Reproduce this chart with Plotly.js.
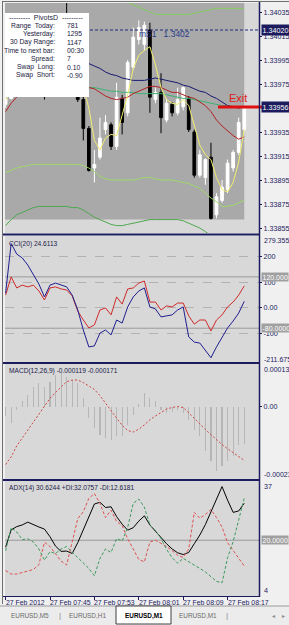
<!DOCTYPE html>
<html><head><meta charset="utf-8">
<script src="https://cdn.plot.ly/plotly-3.0.1.min.js"></script>
<style>html,body{margin:0;padding:0;background:#f0f0f0;overflow:hidden}#c{width:289px;height:625px}</style>
</head><body><div id="c"></div>
<script>
// ---------- data ----------
const times = ['07:37','07:38','07:39','07:40','07:41','07:42','07:43','07:44','07:45','07:46','07:47','07:48','07:49','07:50','07:51','07:52','07:53','07:54','07:55','07:56','07:57','07:58','07:59',
               '08:00','08:01','08:02','08:03','08:04','08:05','08:06','08:07','08:08','08:09','08:10','08:11','08:12','08:13','08:14','08:15','08:16','08:17','08:18','08:19','08:20'];
const tickTimes = ['07:37','07:45','07:53','08:01','08:09','08:17'];
const tickLabels = ['27 Feb 2012','27 Feb 07:45','27 Feb 07:53','27 Feb 08:01','27 Feb 08:09','27 Feb 08:17'];

const open  = [1.33958,1.33963,1.33978,1.33987,1.33995,1.34003,1.33999,1.33983,1.33970,1.33987,1.34008,1.34024,1.34003,1.33987,1.33962,1.33938,1.33905,1.33914,1.33937,1.33941,1.33923,1.33963,1.33951,1.33989,1.34012,1.34008,1.34020,1.33962,1.33968,1.33945,1.33958,1.33951,1.33956,1.33963,1.33935,1.33899,1.33897,1.33914,1.33866,1.33878,1.33887,1.33905,1.33918,1.33937];
const high  = [1.33966,1.33983,1.33993,1.33999,1.34008,1.34012,1.34003,1.33987,1.33991,1.34012,1.34033,1.34043,1.34008,1.33991,1.33966,1.33940,1.33920,1.33947,1.33949,1.33943,1.33976,1.33966,1.33995,1.34022,1.34028,1.34027,1.34026,1.33972,1.33984,1.33963,1.33960,1.33972,1.33973,1.33965,1.33937,1.33920,1.33913,1.33926,1.33884,1.33895,1.33912,1.33920,1.33947,1.33956];
const low   = [1.33955,1.33962,1.33974,1.33983,1.33991,1.33995,1.33978,1.33962,1.33966,1.33985,1.34003,1.33999,1.33983,1.33960,1.33928,1.33902,1.33893,1.33912,1.33933,1.33920,1.33920,1.33933,1.33948,1.33987,1.34008,1.34003,1.33951,1.33959,1.33934,1.33943,1.33948,1.33949,1.33953,1.33935,1.33897,1.33897,1.33891,1.33862,1.33863,1.33876,1.33884,1.33902,1.33916,1.33935];
const close = [1.33963,1.33978,1.33987,1.33995,1.34003,1.33999,1.33983,1.33970,1.33987,1.34008,1.34024,1.34003,1.33987,1.33962,1.33938,1.33903,1.33908,1.33930,1.33943,1.33923,1.33964,1.33943,1.33993,1.34014,1.34022,1.34024,1.33964,1.33968,1.33947,1.33959,1.33951,1.33962,1.33972,1.33937,1.33899,1.33916,1.33912,1.33863,1.33881,1.33889,1.33909,1.33918,1.33943,1.33956];

const maFast  = [1.33962,1.33968,1.33977,1.33985,1.33993,1.33999,1.33995,1.33985,1.33980,1.33988,1.34005,1.34013,1.34003,1.33983,1.33972,1.33955,1.33928,1.33920,1.33930,1.33933,1.33932,1.33949,1.33966,1.33988,1.33999,1.34003,1.34006,1.33991,1.33972,1.33962,1.33959,1.33958,1.33962,1.33957,1.33941,1.33924,1.33916,1.33912,1.33897,1.33887,1.33885,1.33893,1.33910,1.33937];
const maSlow  = [1.34012,1.34010,1.34008,1.34007,1.34005,1.34003,1.34002,1.34000,1.33998,1.33998,1.33997,1.33996,1.33995,1.33994,1.33993,1.33992,1.33990,1.33988,1.33985,1.33983,1.33982,1.33980,1.33979,1.33978,1.33978,1.33978,1.33979,1.33980,1.33979,1.33978,1.33977,1.33976,1.33974,1.33973,1.33971,1.33969,1.33968,1.33965,1.33963,1.33960,1.33957,1.33956,1.33955,1.33956];
const maMid   = [1.33952,1.33959,1.33964,1.33968,1.33970,1.33972,1.33973,1.33974,1.33975,1.33976,1.33977,1.33977,1.33976,1.33974,1.33973,1.33972,1.33971,1.33968,1.33965,1.33963,1.33962,1.33963,1.33964,1.33967,1.33969,1.33971,1.33973,1.33973,1.33972,1.33970,1.33968,1.33968,1.33966,1.33964,1.33963,1.33960,1.33957,1.33952,1.33945,1.33940,1.33936,1.33932,1.33929,1.33931];
const maGreen = [1.33977,1.33977,1.33976,1.33976,1.33975,1.33975,1.33975,1.33974,1.33974,1.33974,1.33973,1.33973,1.33973,1.33972,1.33972,1.33972,1.33972,1.33971,1.33970,1.33969,1.33969,1.33968,1.33968,1.33968,1.33967,1.33967,1.33967,1.33967,1.33967,1.33966,1.33965,1.33964,1.33963,1.33963,1.33962,1.33961,1.33960,1.33959,1.33958,1.33957,1.33957,1.33956,1.33956,1.33955];
const bandUpper = [null,null,null,null,null,null,null,null,null,null,null,null,null,null,null,null,null,null,null,null,null,1.34047,1.34043,1.34041,1.34039,1.34037,1.34035,1.34033,1.34033,1.34033,1.34033,1.34033,1.34033,1.34033,1.34034,1.34035,1.34036,1.34037,1.34038,1.34038,1.34038,1.34038,1.34038,1.34038];
const bandMid   = [1.33901,1.33903,1.33905,1.33906,1.33907,1.33908,1.33908,1.33908,1.33908,1.33908,1.33908,1.33908,1.33908,1.33908,1.33907,1.33905,1.33902,1.33898,1.33896,1.33895,1.33895,1.33895,1.33895,1.33895,1.33896,1.33897,1.33897,1.33896,1.33895,1.33895,1.33895,1.33894,1.33893,1.33892,1.33890,1.33888,1.33884,1.33880,1.33877,1.33873,1.33873,1.33874,1.33876,1.33878];
const bandLower = [1.33857,1.33862,1.33866,1.33868,1.33870,1.33872,1.33873,1.33873,1.33873,1.33873,1.33873,1.33873,1.33872,1.33872,1.33870,1.33867,1.33864,1.33862,1.33860,1.33858,1.33857,1.33857,1.33858,1.33859,1.33860,1.33861,1.33862,1.33862,1.33862,1.33862,1.33862,1.33862,1.33861,1.33859,1.33857,1.33855,1.33852,1.33848,1.33845,1.33842,1.33841,1.33841,1.33841,1.33841];

const mainTicks = [1.34035,1.34015,1.33995,1.33975,1.33935,1.33915,1.33895,1.33875,1.33855];
const mainRange = [1.3385083,1.340425];
const mS1Level = 1.3402;

const cci20  = [57,250,209,194,166,127,92,42,88,96,88,81,49,-9,-87,-153,-149,-99,-87,-106,-48,-60,3,42,65,77,3,-5,-36,-32,-28,-9,3,-114,-134,-138,-165,-195,-153,-114,-79,-52,-21,24.6113];
const cciRed = [49,120,77,88,81,88,65,30,77,81,73,69,46,-13,-48,-79,-67,-9,-1,-28,42,14,73,77,96,104,22,22,-9,7,3,18,18,-32,-64,-48,-48,-91,-48,-28,3,22,49,85];
const cciRange = [-211.675,279.3554];
const cciTicks = [200,100,0,-100];
const cciTickText = ['200','100','0.00','-100'];
const cciLevels = [120,-80];

const macdMain   = [-0.000030,-0.000053,-0.000010,0.000016,0.000037,0.000063,0.000074,0.000063,0.000079,0.000100,0.000105,0.000095,0.000084,0.000074,0.000026,-0.000037,-0.000068,-0.000089,-0.000100,-0.000105,-0.000095,-0.000095,-0.000058,-0.000026,0.000007,0.000042,0.000028,0.000016,-0.000010,-0.000021,-0.000016,-0.000010,-0.000021,-0.000042,-0.000074,-0.000095,-0.000142,-0.000174,-0.000205,-0.000189,-0.000174,-0.000158,-0.000121,-0.000119];
const macdSignal = [-0.000184,-0.000160,-0.000125,-0.000100,-0.000072,-0.000047,-0.000022,0.000002,0.000026,0.000045,0.000063,0.000079,0.000084,0.000084,0.000076,0.000065,0.000054,0.000035,0.000010,-0.000014,-0.000037,-0.000060,-0.000076,-0.000081,-0.000072,-0.000058,-0.000042,-0.000030,-0.000018,-0.000008,-0.000003,0.000000,-0.000003,-0.000020,-0.000035,-0.000055,-0.000073,-0.000090,-0.000106,-0.000121,-0.000134,-0.000147,-0.000160,-0.000171];
const macdRange = [-0.00023,0.000135];
const macdRangeText = ['-0.00023','0.000135'];

const adx     = [18.0,23.0,23.9,24.4,25.2,24.4,23.8,23.2,21.0,18.3,16.8,16.9,16.2,19.3,23.0,26.5,30.4,30.9,29.4,29.6,26.8,24.6,22.9,23.6,25.5,27.0,24.4,22.6,20.7,19.0,17.5,16.4,15.9,16.5,19.0,21.5,24.5,28.0,32.0,35.4,31.5,28.0,28.4,30.6244];
const plusDI  = [17.0,23.6,22.4,20.2,20.4,19.5,17.5,14.3,16.7,16.2,17.5,18.2,16.6,15.0,13.5,11.9,9.8,14.8,17.5,16.5,20.5,19.8,23.7,30.6,31.8,29.5,24.4,22.8,20.5,17.4,15.0,13.4,14.8,13.9,12.9,11.9,10.9,9.5,8.2,7.8,15.0,19.6,26.0,32.0757];
const minusDI = [11.3,10.3,10.3,10.8,11.2,11.6,13.0,19.4,18.2,16.2,14.0,12.9,19.3,26.2,28.2,32.0,33.4,30.6,26.5,28.6,25.4,24.2,20.4,17.3,14.5,13.8,19.5,20.0,19.2,18.2,17.0,15.7,15.1,17.5,28.0,26.3,27.4,28.8,26.5,23.8,19.3,17.0,15.0,12.6181];
const adxRange = [4,37];
const adxLevel = 20;

const pivotLabels = ['Range\u00a0\u00a0Today:','Yesterday:','30 Day Range:','Time to next bar:','Spread:','Swap\u00a0\u00a0Long:','Swap\u00a0\u00a0Short:'];
const pivotValues = ['781','1295','1147','00:30','7','0.10','-0.90'];

const tabNames = ['EURUSD,M5','EURUSD,H1','EURUSD,M1','EURUSD,M1'];
const activeTab = 2;

// ---------- layout helpers ----------
const W=289,H=625, PL=5, PR=259, PT=3, PB=596;
const fx = x => (x-PL)/(PR-PL);
const fy = y => (PB-y)/(PB-PT);
const NAVY='#1b1b5e';
const FONT='"Liberation Sans", Arial, sans-serif';
const idx = times.map((t,i)=>i);
const last = idx.length-1;

function ann(text, x, y, o={}) {
  return Object.assign({text, xref:'paper', yref:'paper', x:fx(x), y:fy(y), showarrow:false,
    xanchor:'left', yanchor:'middle', font:{family:FONT, size:7, color:'#1a1a40'}}, o);
}

const line = (y, color, w, yaxis, extra={}) => Object.assign({type:'scatter', mode:'lines', x:idx, y, xaxis:'x', yaxis,
  line:{color, width:w}, hoverinfo:'skip', connectgaps:false}, extra);

const traces = [
  {type:'candlestick', x:idx, open, high, low, close, xaxis:'x', yaxis:'y', whiskerwidth:0,
   increasing:{line:{color:'#ffffff', width:1}, fillcolor:'#ffffff'},
   decreasing:{line:{color:'#000000', width:1}, fillcolor:'#000000'}, hoverinfo:'skip'},
  line(bandUpper,'#86cf62',1,'y'),
  line(bandMid,'#9fd86a',1,'y'),
  line(bandLower,'#4ea84e',1,'y'),
  line(maGreen,'#3cb371',1,'y'),
  line(maMid,'#b22222',1,'y'),
  line(maSlow,'#191970',1,'y'),
  line(maFast,'#f2ee70',1,'y'),
  line(cciRed,'#d02a2a',1,'y2'),
  line(cci20,'#1f1f8f',1,'y2'),
  {type:'bar', x:idx, y:macdMain, xaxis:'x', yaxis:'y3', width:0.2, marker:{color:'#b6b6b6', line:{width:0}}, hoverinfo:'skip'},
  line(macdSignal,'#d04545',1,'y3',{line:{color:'#d04545', width:1, dash:'2px,2px'}}),
  line(adx,'#000000',1,'y4'),
  line(minusDI,'#e05050',1,'y4',{line:{color:'#e05050', width:1, dash:'3px,2px'}}),
  line(plusDI,'#3a9a5a',1,'y4',{line:{color:'#3a9a5a', width:1, dash:'3px,2px'}})
];

const yCommon = {side:'right', anchor:'x', showgrid:false, zeroline:false, showline:false, ticks:'outside', ticklen:2,
  tickwidth:1, tickcolor:NAVY, tickfont:{family:FONT, size:7.2, color:NAVY}, ticklabeloverflow:'allow', fixedrange:true, automargin:false};

const minLow = Math.min(...low), maxHigh = Math.max(...high);
const lastClose = close[last];

const shapes = [
  {type:'rect', xref:'x', yref:'y', x0:-1, x1:last, y0:minLow, y1:maxHigh, fillcolor:'#a9a9a9', line:{width:0}, layer:'below'},
  {type:'line', xref:'paper', yref:'y', x0:0, x1:1, y0:lastClose, y1:lastClose, line:{color:'#f6f6f6', width:1}, layer:'below'},
  {type:'line', xref:'paper', yref:'y', x0:0, x1:1, y0:mS1Level, y1:mS1Level, line:{color:'#1f2a7a', width:1, dash:'3px,2px'}, layer:'above'},
  ...cciLevels.map(v=>({type:'line', xref:'paper', yref:'y2', x0:0, x1:1, y0:v, y1:v, line:{color:'#9a9a9a', width:1}, layer:'below'})),
  {type:'line', xref:'paper', yref:'y4', x0:0, x1:1, y0:adxLevel, y1:adxLevel, line:{color:'#9a9a9a', width:1}, layer:'below'},
  // Exit line
  {type:'line', xref:'paper', yref:'paper', x0:fx(218), x1:fx(263), y0:fy(107), y1:fy(107), line:{color:'#e01010', width:3}, layer:'above'},
  // pivots box
  {type:'rect', xref:'paper', yref:'paper', x0:fx(5), x1:fx(89), y0:fy(97), y1:fy(13), fillcolor:'#ffffff', line:{width:0}, layer:'above'},
  // separators & frame
  ...[234.5,363,480].map(y=>({type:'line', xref:'paper', yref:'paper', x0:fx(3), x1:fx(259.5), y0:fy(y), y1:fy(y), line:{color:NAVY, width:2}})),
  {type:'line', xref:'paper', yref:'paper', x0:fx(3), x1:fx(260), y0:fy(596.5), y1:fy(596.5), line:{color:NAVY, width:1}},
  {type:'line', xref:'paper', yref:'paper', x0:fx(259.5), x1:fx(259.5), y0:fy(2), y1:fy(597), line:{color:NAVY, width:1.5}},
  {type:'line', xref:'paper', yref:'paper', x0:fx(2.5), x1:fx(2.5), y0:fy(1), y1:fy(604), line:{color:'#707070', width:1}},
  {type:'line', xref:'paper', yref:'paper', x0:fx(2), x1:fx(289), y0:fy(1.5), y1:fy(1.5), line:{color:'#707070', width:1}},
  // tab bar
  {type:'rect', xref:'paper', yref:'paper', x0:fx(0), x1:fx(289), y0:fy(625), y1:fy(606), fillcolor:'#ececec', line:{width:0}, layer:'below'},
  {type:'line', xref:'paper', yref:'paper', x0:fx(0), x1:fx(289), y0:fy(606), y1:fy(606), line:{color:'#9a9a9a', width:1}, layer:'below'},
  {type:'rect', xref:'paper', yref:'paper', x0:fx(116), x1:fx(171), y0:fy(624), y1:fy(606), fillcolor:'#ffffff', line:{color:'#404040', width:1}, layer:'below'}
];

const annotations = [
  // time labels at the axis ticks
  ...tickTimes.map((t,i)=>({text:tickLabels[i], xref:'x', yref:'paper', x:times.indexOf(t), y:fy(602), xanchor:'left', yanchor:'middle',
     showarrow:false, xshift:-1, borderpad:0, font:{family:FONT, size:6.9, color:NAVY}})),
  // price boxes
  {text:mS1Level.toFixed(5), xref:'paper', yref:'y', x:fx(260.5), y:mS1Level, xanchor:'left', yanchor:'middle', showarrow:false,
   bgcolor:NAVY, borderpad:0.5, font:{family:FONT, size:7.2, color:'#ffffff'}},
  {text:lastClose.toFixed(5), xref:'paper', yref:'y', x:fx(260.5), y:lastClose, xanchor:'left', yanchor:'middle', showarrow:false,
   bgcolor:NAVY, borderpad:0.5, font:{family:FONT, size:7.2, color:'#ffffff'}},
  ann('mS1\u00a0\u00a0\u00a0'+mS1Level.toFixed(4), 137, 34.5, {font:{family:FONT, size:8.5, color:'#2a3a8a'}}),
  ann('Exit', 237.5, 98, {xanchor:'center', font:{family:FONT, size:11, color:'#e02020'}}),
  // CCI
  ann('CCI(20) '+cci20[last].toFixed(4), 7, 243.5, {font:{family:FONT, size:6.6, color:'#1a1a4a'}}),
  ann(cciRange[1].toFixed(4), 262, 240.5, {font:{family:FONT, size:7, color:NAVY}}),
  ann(cciRange[0].toFixed(3), 262, 359, {font:{family:FONT, size:7, color:NAVY}}),
  ...cciLevels.map(v=>({text:(v>0?v.toFixed(3):v.toFixed(4)), xref:'paper', yref:'y2', x:fx(261), y:v, xanchor:'left', yanchor:'middle', showarrow:false,
   bgcolor:'#a0a0a0', borderpad:0.5, font:{family:FONT, size:7, color:'#ffffff'}})),
  // MACD
  ann('MACD(12,26,9) '+macdMain[last].toFixed(6)+' '+macdSignal[last].toFixed(6), 7, 371, {font:{family:FONT, size:6.6, color:'#1a1a4a'}}),
  ann(macdRangeText[1], 262, 369.5, {font:{family:FONT, size:7, color:NAVY}}),
  ann(macdRangeText[0], 262, 474, {font:{family:FONT, size:7, color:NAVY}}),
  // ADX
  ann('ADX(14) '+adx[last].toFixed(4)+' +DI:'+plusDI[last].toFixed(4)+' -DI:'+minusDI[last].toFixed(4), 7, 488, {font:{family:FONT, size:6.6, color:'#1a1a4a'}}),
  ann(String(adxRange[1]), 262, 486, {font:{family:FONT, size:7.2, color:NAVY}}),
  ann(String(adxRange[0]), 262, 590, {font:{family:FONT, size:7.2, color:NAVY}}),
  {text:adxLevel.toFixed(4), xref:'paper', yref:'y4', x:fx(261), y:adxLevel, xanchor:'left', yanchor:'middle', showarrow:false,
   bgcolor:'#a0a0a0', borderpad:0.5, font:{family:FONT, size:7, color:'#ffffff'}},
  // pivots
  ann('---------\u00a0\u00a0PivotsD\u00a0\u00a0---------', 46, 17, {xanchor:'center', font:{family:FONT, size:7, color:'#1a1a40'}}),
  ...pivotLabels.map((t,i)=>ann(t, 57, 25.5+i*8.3, {xanchor:'right', font:{family:FONT, size:6.8, color:'#1a1a40'}})),
  ...pivotValues.map((t,i)=>ann(t, 64.5, 25.5+i*8.3, {font:{family:FONT, size:6.8, color:'#1a1a40'}})),
  // tabs
  ...tabNames.map((t,i)=>ann(t, [30,87,143.5,198][i], 615.5, {xanchor:'center',
     font:{family:FONT, size:6.4, color:i===activeTab?'#000000':'#6a6a6a', weight:i===activeTab?'bold':'normal'}})),
  ann('|', 60, 615, {xanchor:'center', font:{family:FONT, size:8, color:'#8a8a8a'}}),
  ann('|', 227, 615, {xanchor:'center', font:{family:FONT, size:8, color:'#8a8a8a'}}),
  ann('\u25c2', 273, 615.5, {xanchor:'center', font:{family:FONT, size:6, color:'#8a8a8a'}}),
  ann('\u25b8', 283, 615.5, {xanchor:'center', font:{family:FONT, size:6, color:'#8a8a8a'}})
];

const layout = {
  width:W, height:H, margin:{l:PL, r:W-PR, t:PT, b:H-PB, pad:0},
  paper_bgcolor:'#f0f0f0', plot_bgcolor:'#d8d8d8', showlegend:false, hovermode:false, dragmode:false, bargap:0,
  xaxis:{range:[-0.11,45.66], anchor:'y4', showgrid:false, zeroline:false, showline:false,
    tickvals:tickTimes.map(t=>times.indexOf(t)), ticks:'outside', ticklen:3, tickwidth:1, tickcolor:NAVY,
    showticklabels:false, rangeslider:{visible:false}, fixedrange:true, automargin:false},
  yaxis:Object.assign({}, yCommon, {domain:[fy(233), 1], range:mainRange, tickvals:mainTicks, ticktext:mainTicks.map(v=>v.toFixed(5))}),
  yaxis2:Object.assign({}, yCommon, {domain:[fy(362), fy(236)], range:cciRange, tickvals:cciTicks, ticktext:cciTickText,
    showgrid:true, gridcolor:'#b2b2b2', griddash:'dash', gridwidth:1}),
  yaxis3:Object.assign({}, yCommon, {domain:[fy(479), fy(364)], range:macdRange, tickvals:[0], ticktext:['0.00']}),
  yaxis4:Object.assign({}, yCommon, {domain:[0, fy(481)], range:adxRange, tickvals:[], showticklabels:false}),
  shapes, annotations
};

Plotly.newPlot('c', traces, layout, {staticPlot:true, displayModeBar:false});
</script></body></html>
